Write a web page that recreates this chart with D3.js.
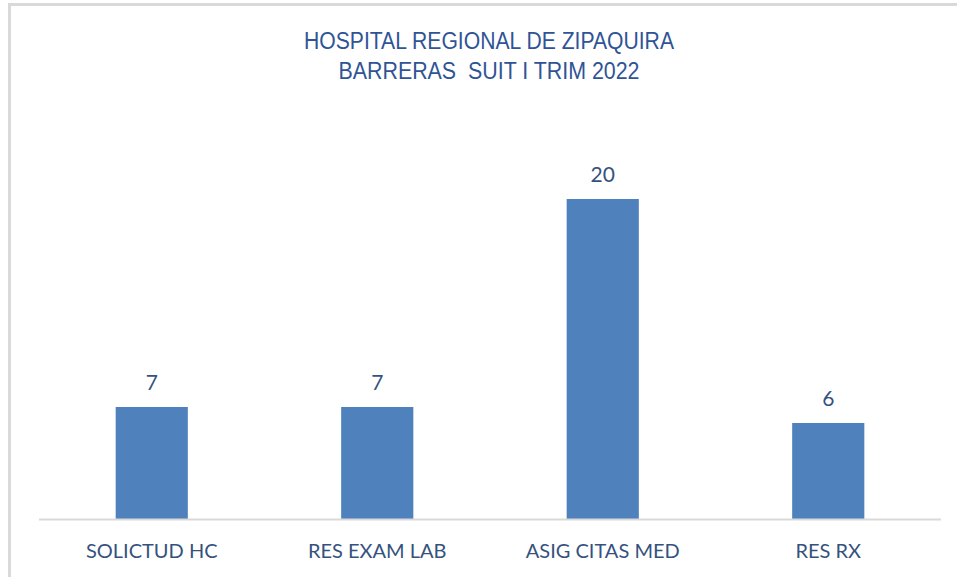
<!DOCTYPE html>
<html>
<head>
<meta charset="utf-8">
<script src="https://cdn.jsdelivr.net/npm/d3@7"></script>
<style>
  body { margin: 0; background: #fff; }
  svg { display: block; }
</style>
</head>
<body>
<svg id="chart" width="957" height="577"></svg>
<script>
const categories = ["SOLICTUD HC", "RES EXAM LAB", "ASIG CITAS MED", "RES RX"];
const values = [7, 7, 20, 6];
const titleLines = ["HOSPITAL REGIONAL DE ZIPAQUIRA", "BARRERAS  SUIT I TRIM 2022"];

const W = 957, H = 577;
const margin = {left: 39, right: 16, top: 119, bottom: 58};
const svg = d3.select("#chart");

// chart frame (cropped on right/bottom like the original)
svg.append("rect")
  .attr("x", 9.5).attr("y", 4.5)
  .attr("width", 1000).attr("height", 700)
  .attr("fill", "#fff")
  .attr("stroke", "#d9d9d9")
  .attr("stroke-width", 3);

const x = d3.scaleBand()
  .domain(categories)
  .range([margin.left, W - margin.right])
  .paddingInner(0.68)
  .paddingOuter(0.34);

const y = d3.scaleLinear()
  .domain([0, 25])
  .range([H - margin.bottom, margin.top]);

// title
svg.append("g").selectAll("text")
  .data(titleLines)
  .join("text")
  .attr("x", 489)
  .attr("y", (d, i) => 49 + i * 30)
  .attr("text-anchor", "middle")
  .attr("font-family", "'Liberation Sans', Arial, sans-serif")
  .attr("font-size", 23.5)
  .attr("fill", "#2f5496")
  .style("white-space", "pre")
  .attr("textLength", (d, i) => i == 0 ? 370 : 301)
  .attr("lengthAdjust", "spacingAndGlyphs")
  .text(d => d);

// bars
svg.append("g").selectAll("rect")
  .data(values)
  .join("rect")
  .attr("x", (d, i) => x(categories[i]))
  .attr("y", d => y(d))
  .attr("width", x.bandwidth())
  .attr("height", d => y(0) - y(d))
  .attr("fill", "#4f81bd");

// value labels
svg.append("g").selectAll("text")
  .data(values)
  .join("text")
  .attr("x", (d, i) => x(categories[i]) + x.bandwidth() / 2)
  .attr("y", d => y(d) - 17)
  .attr("text-anchor", "middle")
  .attr("font-family", "Lato, 'Open Sans', sans-serif")
  .attr("font-size", 21)
  .attr("fill", "#35527f")
  .text(d => d);

// x axis
const xAxis = svg.append("g")
  .attr("transform", `translate(0,${y(0)})`)
  .call(d3.axisBottom(x).tickSize(0).tickPadding(0));
xAxis.select(".domain")
  .attr("d", `M${margin.left},0.5H${W - margin.right}`)
  .attr("stroke", "#d9d9d9")
  .attr("stroke-width", 2);
xAxis.selectAll("text")
  .attr("y", 39)
  .attr("dy", null)
  .attr("font-family", "Lato, 'Open Sans', sans-serif")
  .attr("font-size", 20)
  .attr("fill", "#35527f");
</script>
</body>
</html>
